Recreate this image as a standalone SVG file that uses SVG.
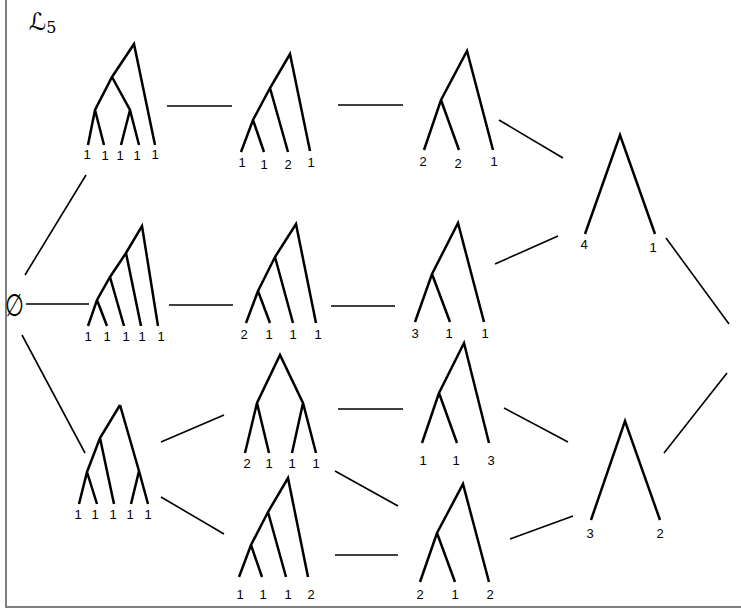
<svg xmlns="http://www.w3.org/2000/svg" width="741" height="613" viewBox="0 0 741 613">
<style>
.t{fill:none;stroke:#000;stroke-width:2.5;stroke-linejoin:miter;stroke-linecap:butt}
.c{stroke:#000;stroke-width:1.6;fill:none}
.l{font-family:"Liberation Sans",Arial,sans-serif;font-size:13px;fill:#000;text-anchor:middle}
.f{stroke:#7f7f7f;stroke-width:2;fill:none}
</style>
<rect width="741" height="613" fill="#fff"/>
<path class="f" d="M6,0 V607 H741"/>
<text x="29" y="30" font-family="DejaVu Sans,sans-serif" font-size="24">ℒ<tspan font-family="DejaVu Serif,serif" font-size="16" dy="3">5</tspan></text>
<g id="empty"><text transform="translate(15,316) scale(0.7,1)" font-family="DejaVu Serif,serif" font-size="31" text-anchor="middle">∅</text></g>
<g id="connectors">
<line class="c" x1="167" y1="106" x2="232" y2="106"/>
<line class="c" x1="338" y1="105" x2="403" y2="105"/>
<line class="c" x1="499" y1="120" x2="563" y2="158"/>
<line class="c" x1="495" y1="264" x2="558" y2="236"/>
<line class="c" x1="666" y1="238" x2="729" y2="324"/>
<line class="c" x1="664" y1="453" x2="727" y2="373"/>
<line class="c" x1="504" y1="408" x2="568" y2="442"/>
<line class="c" x1="510" y1="539" x2="573" y2="516"/>
<line class="c" x1="25" y1="275" x2="86" y2="175"/>
<line class="c" x1="26" y1="304" x2="89" y2="304"/>
<line class="c" x1="169" y1="305" x2="233" y2="305"/>
<line class="c" x1="331" y1="306" x2="395" y2="306"/>
<line class="c" x1="22" y1="335" x2="85" y2="453"/>
<line class="c" x1="161" y1="442" x2="224" y2="415"/>
<line class="c" x1="161" y1="497" x2="224" y2="534"/>
<line class="c" x1="338" y1="409" x2="403" y2="409"/>
<line class="c" x1="335" y1="471" x2="398" y2="506"/>
<line class="c" x1="335" y1="555" x2="398" y2="555"/>
</g>
<g id="t11111a">
<path class="t" d="M155,145 L134,44 L112,77 L95,110 L88,145 M95,110 L104,145 M112,77 L130,110 L121,145 M130,110 L139,145"/>
<text class="l" x="87" y="159">1</text><text class="l" x="105" y="160">1</text><text class="l" x="120" y="160">1</text><text class="l" x="137" y="160">1</text><text class="l" x="155" y="159">1</text>
</g>
<g id="t1121">
<path class="t" d="M310,151 L290,54 L270,88 L253,120 L241,152 M253,120 L264,152 M270,88 L288,152"/>
<text class="l" x="242" y="167">1</text><text class="l" x="264" y="169">1</text><text class="l" x="288" y="169">2</text><text class="l" x="311" y="167">1</text>
</g>
<g id="t221">
<path class="t" d="M493,150 L467,51 L441,100 L424,150 M441,100 L459,150"/>
<text class="l" x="423" y="166">2</text><text class="l" x="458" y="168">2</text><text class="l" x="494" y="166">1</text>
</g>
<g id="t41">
<path class="t" d="M585,234 L620,135 L655,234"/>
<text class="l" x="584" y="249">4</text><text class="l" x="653" y="252">1</text>
</g>
<g id="t11111b">
<path class="t" d="M158,326 L142,226 L126,253 L110,277 L97,300 L88,326 M97,300 L107,326 M110,277 L124,326 M126,253 L141,326"/>
<text class="l" x="88" y="341">1</text><text class="l" x="107" y="341">1</text><text class="l" x="126" y="341">1</text><text class="l" x="142" y="341">1</text><text class="l" x="161" y="341">1</text>
</g>
<g id="t2111">
<path class="t" d="M316,323 L296,224 L275,257 L258,291 L246,323 M258,291 L270,323 M275,257 L293,323"/>
<text class="l" x="244" y="339">2</text><text class="l" x="269" y="339">1</text><text class="l" x="293" y="339">1</text><text class="l" x="318" y="339">1</text>
</g>
<g id="t311">
<path class="t" d="M484,322 L458,223 L432,274 L415,322 M432,274 L450,322"/>
<text class="l" x="415" y="338">3</text><text class="l" x="449" y="338">1</text><text class="l" x="485" y="338">1</text>
</g>
<g id="t11111c">
<path class="t" d="M120,405 L100,438 L87,472 L79,504 M87,472 L97,504 M100,438 L114,504 M120,405 L139,471 L131,504 M139,471 L148,504"/>
<text class="l" x="78" y="519">1</text><text class="l" x="95" y="519">1</text><text class="l" x="113" y="519">1</text><text class="l" x="130" y="519">1</text><text class="l" x="148" y="519">1</text>
</g>
<g id="t2111b">
<path class="t" d="M245,453 L257,403 L280,355 L303,403 L316,453 M257,403 L269,453 M303,403 L292,453"/>
<text class="l" x="247" y="468">2</text><text class="l" x="269" y="468">1</text><text class="l" x="292" y="468">1</text><text class="l" x="316" y="468">1</text>
</g>
<g id="t113">
<path class="t" d="M489,443 L464,343 L439,393 L422,443 M439,393 L457,443"/>
<text class="l" x="423" y="465">1</text><text class="l" x="456" y="465">1</text><text class="l" x="491" y="465">3</text>
</g>
<g id="t32">
<path class="t" d="M591,520 L625,421 L660,520"/>
<text class="l" x="590" y="538">3</text><text class="l" x="660" y="538">2</text>
</g>
<g id="t1112">
<path class="t" d="M308,577 L288,478 L268,512 L251,545 L239,577 M251,545 L262,577 M268,512 L286,577"/>
<text class="l" x="240" y="599">1</text><text class="l" x="263" y="599">1</text><text class="l" x="288" y="599">1</text><text class="l" x="311" y="599">2</text>
</g>
<g id="t212">
<path class="t" d="M489,582 L463,484 L437,533 L420,582 M437,533 L455,582"/>
<text class="l" x="420" y="599">2</text><text class="l" x="455" y="599">1</text><text class="l" x="490" y="599">2</text>
</g>
</svg>
